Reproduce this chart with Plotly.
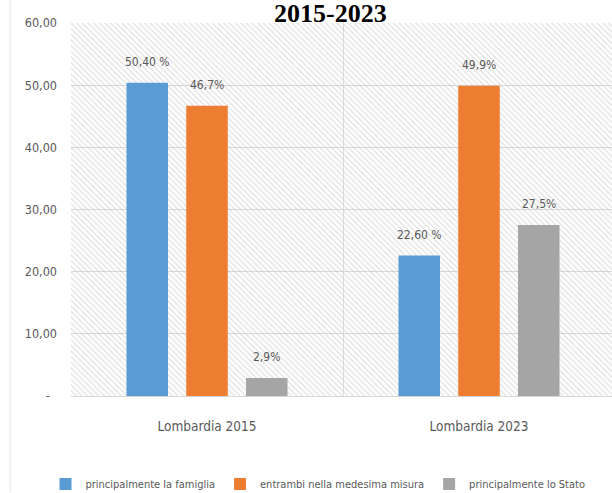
import plotly.graph_objects as go

categories = ["Lombardia 2015", "Lombardia 2023"]
series_names = ["principalmente la famiglia", "entrambi nella medesima misura", "principalmente lo Stato"]
famiglia = [50.4, 22.6]
entrambi = [46.7, 49.9]
stato = [2.9, 27.5]
famiglia_labels = ["50,40 %", "22,60 %"]
entrambi_labels = ["46,7%", "49,9%"]
stato_labels = ["2,9%", "27,5%"]
y_tick_vals = [0, 10, 20, 30, 40, 50, 60]
y_tick_text = ["-\u00a0\u00a0", "10,00", "20,00", "30,00", "40,00", "50,00", "60,00"]
colors = ["#5B9BD5", "#ED7D31", "#A5A5A5"]

W, H = 612, 493
ML, MT, MB = 71, 22.5, 96.5
cat_px = 272.0
plot_w = W - ML
plot_h = H - MT - MB
bargap = 0.341
bargroupgap = 0.305
n_series = 3

FONT = "DejaVu Sans Condensed, Liberation Sans Narrow, sans-serif"
TXT = "#595959"

fig = go.Figure()

# hatched plot-area background (on main hidden axes)
fig.add_trace(go.Scatter(
    x=[0, 1, 1, 0, 0], y=[0, 0, 1, 1, 0], mode="lines", fill="toself",
    line=dict(width=0), fillcolor="rgba(0,0,0,0)",
    fillpattern=dict(shape="\\", size=4, solidity=0.32, fgcolor="#c2c2c2", bgcolor="rgba(255,255,255,0)"),
    hoverinfo="skip", showlegend=False, xaxis="x", yaxis="y",
))

all_vals = [famiglia, entrambi, stato]
all_labels = [famiglia_labels, entrambi_labels, stato_labels]
for j, (name, vals, col) in enumerate(zip(series_names, all_vals, colors)):
    fig.add_trace(go.Bar(
        x=categories, y=vals, name=name, marker=dict(color=col, line=dict(width=0)),
        xaxis="x2", yaxis="y2",
    ))

slot = (1 - bargap) / n_series
annotations = []
for j, (vals, labs) in enumerate(zip(all_vals, all_labels)):
    for i, (v, lab) in enumerate(zip(vals, labs)):
        annotations.append(dict(
            x=i + (j - (n_series - 1) / 2) * slot, y=v, xref="x2", yref="y2",
            text=lab, showarrow=False, yanchor="bottom", yshift=12,
            font=dict(family=FONT, size=12, color=TXT),
        ))

annotations.append(dict(
    text="<b>2015-2023</b>",
    x=(330 - ML) / plot_w, y=1 + (MT - 12.5) / plot_h, xref="paper", yref="paper",
    showarrow=False, xanchor="center", yanchor="middle",
    font=dict(family="Liberation Serif, Times New Roman, serif", size=26, color="black"),
))

fig.update_layout(
    width=W, height=H,
    margin=dict(l=ML, r=0, t=MT, b=MB, pad=0, autoexpand=False),
    paper_bgcolor="white", plot_bgcolor="white",
    barmode="group", bargap=bargap, bargroupgap=bargroupgap,
    xaxis=dict(range=[0, 1], visible=False, fixedrange=True),
    yaxis=dict(range=[0, 1], visible=False, fixedrange=True),
    xaxis2=dict(
        overlaying="x", anchor="y2", side="bottom", automargin=False,
        range=[-0.5, -0.5 + plot_w / cat_px], type="category",
        tickson="boundaries", showgrid=True, gridcolor="#dedede", gridwidth=1,
        showline=True, linecolor="#d9d9d9", linewidth=1, ticks="",
        tickfont=dict(family=FONT, size=13.5, color=TXT), ticklabelstandoff=18,
    ),
    yaxis2=dict(
        overlaying="y", anchor="x2", range=[0, 60], automargin=False,
        tickvals=y_tick_vals, ticktext=y_tick_text,
        showgrid=True, gridcolor="#d9d9d9", gridwidth=1, zeroline=False,
        showline=False, ticks="",
        tickfont=dict(family=FONT, size=12.5, color=TXT), ticklabelstandoff=13,
    ),
    legend=dict(
        orientation="h", xref="container", yref="container",
        x=318 / W, xanchor="center", y=9 / H, yanchor="middle",
        font=dict(family=FONT, size=11, color=TXT),
        itemwidth=30, bgcolor="rgba(0,0,0,0)",
    ),
    annotations=annotations,
    shapes=[dict(type="line", xref="paper", yref="paper",
                 x0=(10 - ML) / plot_w, x1=(10 - ML) / plot_w,
                 y0=-MB / plot_h, y1=1 + MT / plot_h,
                 line=dict(color="#e3e3e3", width=1))],
    showlegend=True,
)

fig.write_html(
    "out.html",
    config={"displayModeBar": False},
    post_script="document.body.style.margin='0px';document.body.style.overflow='hidden';",
)
